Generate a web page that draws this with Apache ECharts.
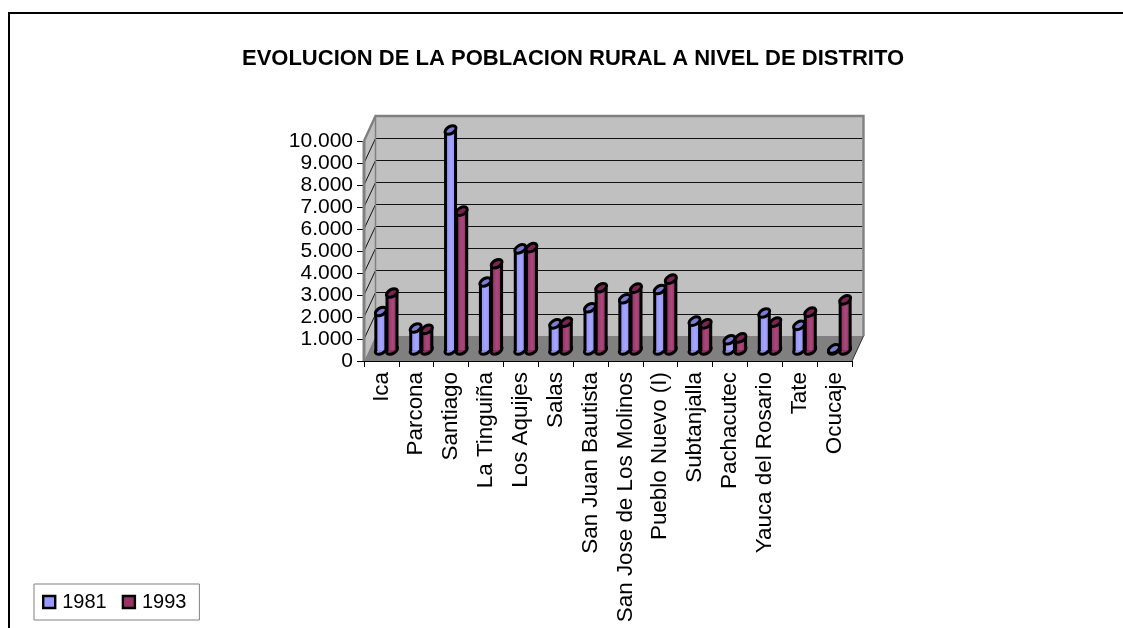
<!DOCTYPE html>
<html><head><meta charset="utf-8">
<style>html,body{margin:0;padding:0;background:#fff}#c{width:1123px;height:628px}</style>
<script src="https://cdn.jsdelivr.net/npm/echarts@6/dist/echarts.min.js"></script></head>
<body><div id="c"></div>
<script>
const categories = ['Ica','Parcona','Santiago','La Tinguiña','Los Aquijes','Salas','San Juan Bautista','San Jose de Los Molinos','Pueblo Nuevo (I)','Subtanjalla','Pachacutec','Yauca del Rosario','Tate','Ocucaje'];
const values1981 = [1750,1000,10000,3090,4600,1190,1920,2330,2750,1310,465,1680,1120,50];
const values1993 = [2590,940,6310,3920,4650,1270,2830,2810,3220,1190,550,1270,1720,2280];
const yTicks = [0,1000,2000,3000,4000,5000,6000,7000,8000,9000,10000];

const FONT = '"Liberation Sans", Arial, sans-serif';
const WALL = [11.5, -25], BAR = [5, -11];

function frameItem(params, api) {
  const lastX = categories.length - 1;
  const band = api.size([1, 0])[0];
  const f0 = api.coord([0, 0]), f1 = api.coord([lastX, 10000]);
  const L = f0[0] - band / 2, R = f1[0] + band / 2, B = f0[1], T = f1[1];
  const dx = WALL[0], dy = WALL[1];
  const kids = [];
  kids.push({type:'polygon',shape:{points:[[L,B],[L+dx,B+dy],[L+dx,T+dy],[L,T]]},style:{fill:'#c0c0c0'}});
  kids.push({type:'polygon',shape:{points:[[L+dx,B+dy],[R+dx,B+dy],[R+dx,T+dy],[L+dx,T+dy]]},style:{fill:'#c0c0c0'}});
  kids.push({type:'polygon',shape:{points:[[L,B],[R,B],[R+dx,B+dy],[L+dx,B+dy]]},style:{fill:'#808080'}});
  yTicks.forEach(function (t) {
    if (t === 0 || t === 10000) return;
    const y = api.coord([0, t])[1];
    const backY = Math.round(y + dy) + 0.5;
    kids.push({type:'polyline',shape:{points:[[L,y],[L+dx,backY],[R+dx-1,backY]]},style:{fill:null,stroke:'#111',lineWidth:1}});
  });
  kids.push({type:'polyline',shape:{points:[[L,T],[L+dx,T+dy],[R+dx,T+dy],[R+dx,B+dy]]},style:{fill:null,stroke:'#808080',lineWidth:2.4}});
  kids.push({type:'line',shape:{x1:L+dx,y1:B+dy,x2:L+dx,y2:T+dy},style:{stroke:'#808080',lineWidth:1.5}});
  kids.push({type:'line',shape:{x1:L,y1:B,x2:L,y2:T},style:{stroke:'#808080',lineWidth:3}});
  kids.push({type:'line',shape:{x1:R,y1:B,x2:R+dx,y2:B+dy},style:{stroke:'#303030',lineWidth:1}});
  return {type:'group',children:kids};
}

function cylinder(side, body, mid, top) {
  return function (params, api) {
    const base = api.coord([api.value(0), 0]);
    const head = api.coord([api.value(0), api.value(1)]);
    const cx = base[0] + BAR[0] + side * api.size([1, 0])[0] * 0.16;
    const by = base[1] + BAR[1], ty = head[1] + BAR[1];
    const r = 5, e = {rx:6, ry:3.6}, lw = 3;
    const grad = {type:'linear',x:0,y:0,x2:1,y2:0,colorStops:[{offset:0,color:body},{offset:.55,color:mid},{offset:1,color:body}]};
    const ell = function (y, fill) {
      return {type:'ellipse',x:cx,y:y,rotation:Math.PI/6,shape:{cx:0,cy:0,rx:e.rx,ry:e.ry},style:{fill:fill,stroke:'#000',lineWidth:lw}};
    };
    return {type:'group',children:[
      ell(by, body),
      {type:'rect',shape:{x:cx-r,y:ty,width:2*r,height:Math.max(by-ty,0)},style:{fill:grad}},
      {type:'line',shape:{x1:cx-r,y1:ty,x2:cx-r,y2:by},style:{stroke:'#000',lineWidth:lw}},
      {type:'line',shape:{x1:cx+r,y1:ty,x2:cx+r,y2:by},style:{stroke:'#000',lineWidth:lw}},
      ell(ty, top)
    ]};
  };
}

const chart = echarts.init(document.getElementById('c'), null, {renderer:'canvas'});
chart.setOption({
  animation:false,
  backgroundColor:'#fff',
  title:{text:'EVOLUCION DE LA POBLACION RURAL A NIVEL DE DISTRITO',left:568,top:43,textAlign:'center',
    textStyle:{fontFamily:FONT,fontSize:22,fontWeight:'bold',color:'#000'}},
  legend:{left:34,top:584,orient:'horizontal',data:['1981','1993'],selectedMode:false,icon:'rect',
    backgroundColor:'#fff',borderColor:'#808080',borderWidth:1,padding:[8,13,8,8],itemGap:15,itemWidth:12,itemHeight:12,
    itemStyle:{borderColor:'#000',borderWidth:2.4},
    textStyle:{fontFamily:FONT,fontSize:20,color:'#000',padding:[0,0,0,2]}},
  grid:{left:364,right:271,top:141,bottom:267,containLabel:false},
  xAxis:{type:'category',data:categories,boundaryGap:true,
    axisLine:{lineStyle:{color:'#000',width:1}},
    axisTick:{show:true,length:6,lineStyle:{color:'#000'},alignWithLabel:false},
    axisLabel:{rotate:90,interval:0,margin:11,fontFamily:FONT,fontSize:22.4,color:'#000'},splitLine:{show:false}},
  yAxis:{type:'value',min:0,max:10000,interval:1000,
    axisLine:{show:true,lineStyle:{color:'#000',width:1}},
    axisTick:{show:true,length:7,lineStyle:{color:'#000'}},
    axisLabel:{margin:11,fontFamily:FONT,fontSize:21,color:'#000',
      formatter:function(v){return String(v).replace(/\B(?=(\d{3})+$)/g,'.');}},
    splitLine:{show:false}},
  graphic:[
    {type:'line',shape:{x1:8,y1:13,x2:1123,y2:13},style:{stroke:'#000',lineWidth:2},silent:true},
    {type:'line',shape:{x1:9,y1:13,x2:9,y2:628},style:{stroke:'#000',lineWidth:2},silent:true}
  ],
  series:[
    {type:'custom',name:'frame',silent:true,z:1,renderItem:frameItem,data:[[0,0]],encode:{x:0,y:1},clip:false},
    {type:'custom',name:'1981',z:3,renderItem:cylinder(-1,'#8f8ff0','#a6a6ff','#7c7cd2'),
      data:values1981.map(function(v,i){return [i,v];}),encode:{x:0,y:1},clip:false,
      itemStyle:{color:'#9999ff'}},
    {type:'custom',name:'1993',z:3,renderItem:cylinder(1,'#932c62','#a84a7c','#7c2552'),
      data:values1993.map(function(v,i){return [i,v];}),encode:{x:0,y:1},clip:false,
      itemStyle:{color:'#993366'}}
  ]
});
</script></body></html>
